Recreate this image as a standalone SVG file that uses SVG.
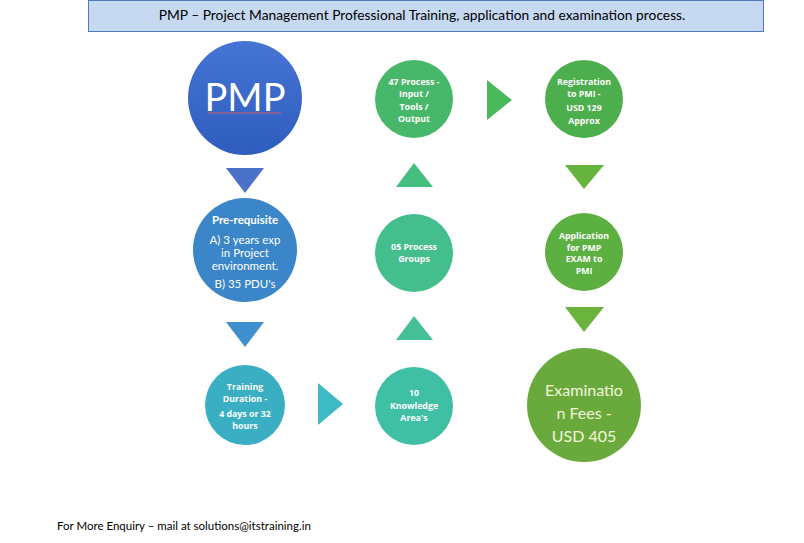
<svg xmlns="http://www.w3.org/2000/svg" width="804" height="543" viewBox="0 0 804 543">
<style>
.t{font-family:"Open Sans","Liberation Sans",sans-serif;fill:#fff;text-anchor:middle;font-weight:bold;font-size:8.8px}
.c{font-family:"Lato","Liberation Sans",sans-serif}
</style>
<defs>
<linearGradient id="g1" x1="0" y1="0" x2="0" y2="1"><stop offset="0" stop-color="#4674d4"/><stop offset="1" stop-color="#2f5dbd"/></linearGradient>
</defs>
<rect width="804" height="543" fill="#fff"/>
<g id="title">
<rect x="88.5" y="0.5" width="675" height="31" fill="#c6d9f1" stroke="#4f7bbd"/>
<text x="422" y="20" class="c" font-size="13.8" text-anchor="middle" fill="#000">PMP – Project Management Professional Training, application and examination process.</text>
</g>
<g id="connectors">
<polygon points="226,168 264,168 245,193" fill="#4a72c9"/>
<polygon points="226,322 264,322 245,347" fill="#3f8fcf"/>
<polygon points="318,383 318,425 343,404" fill="#3dbbc4"/>
<polygon points="396,340 433,340 414,316" fill="#45bf95"/>
<polygon points="396,187 433,187 414,163" fill="#45bf80"/>
<polygon points="487,80 487,120 512,100" fill="#4bb85a"/>
<polygon points="565,165 604,165 584,189" fill="#66b43e"/>
<polygon points="565,307 604,307 584,332" fill="#6ab33d"/>
</g>
<g id="pmp">
<circle cx="245" cy="98" r="57" fill="url(#g1)"/>
<text x="245" y="111" class="c" font-size="38" text-anchor="middle" fill="#fff">PMP</text>
<line x1="208" y1="113" x2="281" y2="113" stroke="#d06070" stroke-width="1"/>
</g>
<g id="prereq">
<circle cx="245" cy="250" r="52" fill="#3b86c8"/>
<text class="c" font-size="11.5" text-anchor="middle" fill="#fff" font-weight="bold"><tspan x="245" y="224">Pre-requisite</tspan></text>
<text class="c" font-size="11.5" text-anchor="middle" fill="#fff"><tspan x="245" y="244">A) 3 years exp</tspan><tspan x="245" y="257">in Project</tspan><tspan x="245" y="270">environment.</tspan><tspan x="245" y="288">B)  35 PDU's</tspan></text>
</g>
<g id="training">
<circle cx="245" cy="405" r="40" fill="#3aaec2"/>
<text class="t"><tspan x="245" y="390">Training</tspan><tspan x="245" y="402">Duration -</tspan><tspan x="245" y="417">4 days or 32</tspan><tspan x="245" y="429">hours</tspan></text>
</g>
<g id="knowledge">
<circle cx="414" cy="406" r="39" fill="#3fbfa3"/>
<text class="t"><tspan x="414" y="396">10</tspan><tspan x="414" y="409">Knowledge</tspan><tspan x="414" y="421">Area's</tspan></text>
</g>
<g id="groups">
<circle cx="414" cy="253" r="39" fill="#44be8c"/>
<text class="t"><tspan x="414" y="250">05 Process</tspan><tspan x="414" y="262">Groups</tspan></text>
</g>
<g id="process47">
<circle cx="414" cy="99" r="39" fill="#47b86a"/>
<text class="t"><tspan x="414" y="85">47 Process -</tspan><tspan x="414" y="97">Input /</tspan><tspan x="414" y="110">Tools /</tspan><tspan x="414" y="122">Output</tspan></text>
</g>
<g id="registration">
<circle cx="584" cy="99" r="39" fill="#4cae4c"/>
<text class="t"><tspan x="584" y="85">Registration</tspan><tspan x="584" y="97">to PMI -</tspan><tspan x="584" y="111">USD  129</tspan><tspan x="584" y="124">Approx</tspan></text>
</g>
<g id="application">
<circle cx="584" cy="252" r="39" fill="#5cb042"/>
<text class="t"><tspan x="584" y="239">Application</tspan><tspan x="584" y="251">for PMP</tspan><tspan x="584" y="262">EXAM to</tspan><tspan x="584" y="274">PMI</tspan></text>
</g>
<g id="exam">
<circle cx="584" cy="405" r="57" fill="#6aaa3c"/>
<text class="c" font-size="16" text-anchor="middle" fill="#f4f4dc"><tspan x="584" y="396">Examinatio</tspan><tspan x="584" y="419">n Fees -</tspan><tspan x="584" y="442">USD 405</tspan></text>
</g>
<text x="57" y="530" class="c" font-size="11.5" fill="#000">For More Enquiry – mail at solutions@itstraining.in</text>
</svg>
